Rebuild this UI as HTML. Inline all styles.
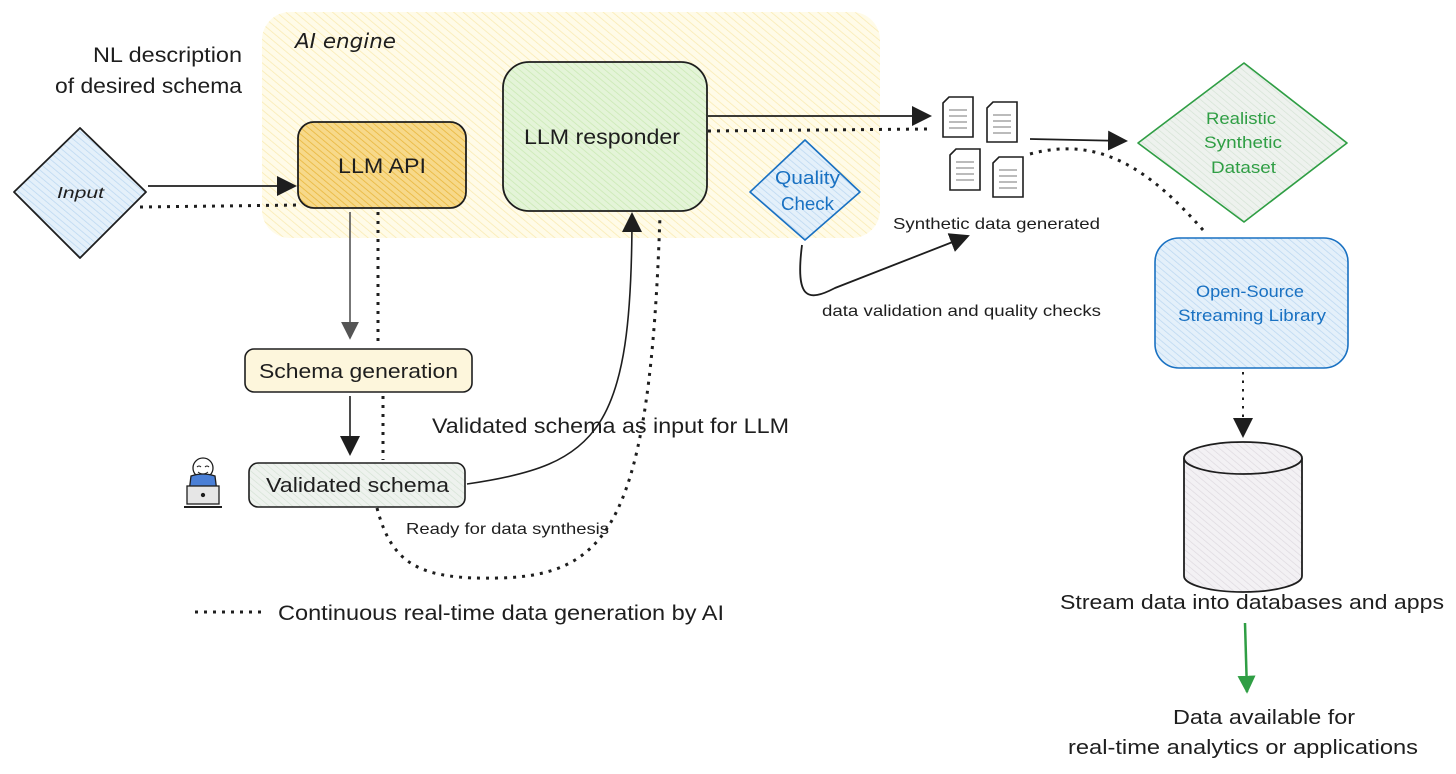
<!DOCTYPE html>
<html><head><meta charset="utf-8"><style>
html,body{margin:0;padding:0;background:#fff;}
svg{display:block;font-family:"Liberation Sans",sans-serif;}
</style></head><body>
<svg width="1456" height="774" viewBox="0 0 1456 774" xmlns="http://www.w3.org/2000/svg">
<defs>
<pattern id="hy" width="6" height="6" patternUnits="userSpaceOnUse" patternTransform="rotate(-50)"><rect width="6" height="6" fill="#fffbe8"/><line x1="0" y1="0" x2="0" y2="6" stroke="#f9eab0" stroke-width="1.5"/></pattern>
<pattern id="ho" width="5" height="5" patternUnits="userSpaceOnUse" patternTransform="rotate(-50)"><rect width="5" height="5" fill="#f7d98a"/><line x1="0" y1="0" x2="0" y2="5" stroke="#e9b73c" stroke-width="1.6"/></pattern>
<pattern id="hg" width="5" height="5" patternUnits="userSpaceOnUse" patternTransform="rotate(-50)"><rect width="5" height="5" fill="#e4f4d8"/><line x1="0" y1="0" x2="0" y2="5" stroke="#c8e8b0" stroke-width="1.4"/></pattern>
<pattern id="hb" width="5" height="5" patternUnits="userSpaceOnUse" patternTransform="rotate(-50)"><rect width="5" height="5" fill="#e4f0fa"/><line x1="0" y1="0" x2="0" y2="5" stroke="#b9d6f0" stroke-width="1.4"/></pattern>
<pattern id="hgr" width="5" height="5" patternUnits="userSpaceOnUse" patternTransform="rotate(-50)"><rect width="5" height="5" fill="#eef2ee"/><line x1="0" y1="0" x2="0" y2="5" stroke="#d3e2d3" stroke-width="1.3"/></pattern>
<pattern id="hc" width="5" height="5" patternUnits="userSpaceOnUse" patternTransform="rotate(-50)"><rect width="5" height="5" fill="#f3f1f4"/><line x1="0" y1="0" x2="0" y2="5" stroke="#dcd8de" stroke-width="1.3"/></pattern>
<marker id="arL" viewBox="0 0 10 10" refX="9" refY="5" markerWidth="20" markerHeight="20" orient="auto" markerUnits="userSpaceOnUse"><path d="M0,0 L10,5 L0,10 z" fill="#1e1e1e"/></marker>
<marker id="arG" viewBox="0 0 10 10" refX="9" refY="5" markerWidth="18" markerHeight="18" orient="auto" markerUnits="userSpaceOnUse"><path d="M0,0 L10,5 L0,10 z" fill="#2f9e44"/></marker>
<marker id="arGr" viewBox="0 0 10 10" refX="9" refY="5" markerWidth="18" markerHeight="18" orient="auto" markerUnits="userSpaceOnUse"><path d="M0,0 L10,5 L0,10 z" fill="#555"/></marker>
</defs>

<rect x="262" y="12" width="618" height="226" rx="28" fill="url(#hy)"/>
<text x="295" y="48" font-size="20" font-style="italic" fill="#1e1e1e" textLength="101" lengthAdjust="spacingAndGlyphs" font-family="'DejaVu Sans',sans-serif">AI engine</text>

<text x="93" y="62" font-size="21" fill="#1e1e1e" textLength="149" lengthAdjust="spacingAndGlyphs">NL description</text>
<text x="55" y="93" font-size="21" fill="#1e1e1e" textLength="187" lengthAdjust="spacingAndGlyphs">of desired schema</text>

<path d="M80,128 L146,192 L80,258 L14,192 Z" fill="url(#hb)" stroke="#1e1e1e" stroke-width="1.8" stroke-linejoin="round"/>
<text x="57" y="198" font-size="16" font-style="italic" fill="#1e1e1e" textLength="47" lengthAdjust="spacingAndGlyphs">Input</text>

<rect x="298" y="122" width="168" height="86" rx="16" fill="url(#ho)" stroke="#1e1e1e" stroke-width="1.8"/>
<text x="338" y="173" font-size="21" fill="#1e1e1e" textLength="88" lengthAdjust="spacingAndGlyphs">LLM API</text>

<rect x="503" y="62" width="204" height="149" rx="26" fill="url(#hg)" stroke="#1e1e1e" stroke-width="1.8"/>
<text x="524" y="144" font-size="21" fill="#1e1e1e" textLength="156" lengthAdjust="spacingAndGlyphs">LLM responder</text>

<line x1="148" y1="186" x2="295" y2="186" stroke="#1e1e1e" stroke-width="1.8" marker-end="url(#arL)"/>
<line x1="140" y1="207" x2="300" y2="205" stroke="#1e1e1e" stroke-width="3" stroke-dasharray="3,6"/>

<line x1="350" y1="212" x2="350" y2="338" stroke="#555" stroke-width="1.6" marker-end="url(#arGr)"/>
<line x1="378" y1="212" x2="378" y2="345" stroke="#1e1e1e" stroke-width="3" stroke-dasharray="3,6"/>

<rect x="245" y="349" width="227" height="43" rx="9" fill="#fdf6dc" stroke="#1e1e1e" stroke-width="1.6"/>
<text x="259" y="378" font-size="20" fill="#1e1e1e" textLength="199" lengthAdjust="spacingAndGlyphs">Schema generation</text>

<line x1="350" y1="396" x2="350" y2="454" stroke="#1e1e1e" stroke-width="1.6" marker-end="url(#arL)"/>
<line x1="383" y1="396" x2="383" y2="460" stroke="#1e1e1e" stroke-width="3" stroke-dasharray="3,6"/>

<rect x="249" y="463" width="216" height="44" rx="9" fill="url(#hgr)" stroke="#1e1e1e" stroke-width="1.6"/>
<text x="266" y="492" font-size="20" fill="#1e1e1e" textLength="183" lengthAdjust="spacingAndGlyphs">Validated schema</text>

<g stroke="#1e1e1e" stroke-width="1.3">
<circle cx="203" cy="468" r="10" fill="#fff"/>
<path d="M191,476 Q203,472 215,476 L217,492 L189,492 Z" fill="#4a7fd6"/>
<rect x="187" y="486" width="32" height="18" fill="#e6e6e6"/>
<line x1="184" y1="507" x2="222" y2="507" stroke-width="2"/>
<circle cx="203" cy="495" r="1.5" fill="#1e1e1e"/>
</g>
<path d="M197,467 q2,-2 4,0 M205,467 q2,-2 4,0 M198,472 q5,4 10,0" fill="none" stroke="#1e1e1e" stroke-width="1"/>

<path d="M467,484 C600,465 632,430 632,214" fill="none" stroke="#1e1e1e" stroke-width="1.6" marker-end="url(#arL)"/>
<path d="M377,508 C392,565 420,580 500,578 C610,575 650,520 660,215" fill="none" stroke="#1e1e1e" stroke-width="3" stroke-dasharray="3,6"/>

<text x="432" y="433" font-size="21" fill="#1e1e1e" textLength="357" lengthAdjust="spacingAndGlyphs">Validated schema as input for LLM</text>
<text x="406" y="534" font-size="16" fill="#1e1e1e" textLength="203" lengthAdjust="spacingAndGlyphs">Ready for data synthesis</text>

<line x1="195" y1="612" x2="265" y2="612" stroke="#1e1e1e" stroke-width="3" stroke-dasharray="3,6"/>
<text x="278" y="620" font-size="21" fill="#1e1e1e" textLength="446" lengthAdjust="spacingAndGlyphs">Continuous real-time data generation by AI</text>

<line x1="708" y1="116" x2="930" y2="116" stroke="#1e1e1e" stroke-width="1.8" marker-end="url(#arL)"/>
<line x1="708" y1="131" x2="928" y2="129" stroke="#1e1e1e" stroke-width="3" stroke-dasharray="3,6"/>

<path d="M805,140 L860,192 L805,240 L750,192 Z" fill="url(#hb)" stroke="#1971c2" stroke-width="1.6" stroke-linejoin="round"/>
<text x="775" y="184" font-size="18" fill="#1971c2" textLength="65" lengthAdjust="spacingAndGlyphs">Quality</text>
<text x="781" y="210" font-size="18" fill="#1971c2" textLength="53" lengthAdjust="spacingAndGlyphs">Check</text>

<path d="M802,245 C795,300 808,302 835,288 L968,236" fill="none" stroke="#1e1e1e" stroke-width="1.8" marker-end="url(#arL)"/>
<text x="822" y="316" font-size="16" fill="#1e1e1e" textLength="279" lengthAdjust="spacingAndGlyphs">data validation and quality checks</text>
<text x="893" y="229" font-size="16" fill="#1e1e1e" textLength="207" lengthAdjust="spacingAndGlyphs">Synthetic data generated</text>

<g fill="#fff" stroke="#1e1e1e" stroke-width="1.6">
<path d="M949,97 L973,97 L973,137 L943,137 L943,103 Z"/>
<path d="M993,102 L1017,102 L1017,142 L987,142 L987,108 Z"/>
<path d="M956,149 L980,149 L980,190 L950,190 L950,155 Z"/>
<path d="M999,157 L1023,157 L1023,197 L993,197 L993,163 Z"/>
</g>
<g stroke="#bbb" stroke-width="2">
<path d="M949,110h18M949,116h18M949,122h18M949,128h18"/>
<path d="M993,115h18M993,121h18M993,127h18M993,133h18"/>
<path d="M956,162h18M956,168h18M956,174h18M956,180h18"/>
<path d="M999,170h18M999,176h18M999,182h18M999,188h18"/>
</g>

<line x1="1030" y1="139" x2="1126" y2="141" stroke="#1e1e1e" stroke-width="1.8" marker-end="url(#arL)"/>
<path d="M1030,154 C1100,135 1150,170 1203,230" fill="none" stroke="#1e1e1e" stroke-width="3" stroke-dasharray="3,6"/>

<path d="M1244,63 L1347,143 L1244,222 L1138,143 Z" fill="url(#hgr)" stroke="#2f9e44" stroke-width="1.6" stroke-linejoin="round"/>
<text x="1206" y="124" font-size="17" fill="#2f9e44" textLength="70" lengthAdjust="spacingAndGlyphs">Realistic</text>
<text x="1204" y="148" font-size="17" fill="#2f9e44" textLength="78" lengthAdjust="spacingAndGlyphs">Synthetic</text>
<text x="1211" y="173" font-size="17" fill="#2f9e44" textLength="65" lengthAdjust="spacingAndGlyphs">Dataset</text>

<rect x="1155" y="238" width="193" height="130" rx="24" fill="url(#hb)" stroke="#1971c2" stroke-width="1.6"/>
<text x="1196" y="297" font-size="17" fill="#1971c2" textLength="108" lengthAdjust="spacingAndGlyphs">Open-Source</text>
<text x="1178" y="321" font-size="17" fill="#1971c2" textLength="148" lengthAdjust="spacingAndGlyphs">Streaming Library</text>

<line x1="1243" y1="372" x2="1243" y2="436" stroke="#1e1e1e" stroke-width="2" stroke-dasharray="2.5,6" marker-end="url(#arL)"/>

<path d="M1184,458 L1184,576 A59,16 0 0 0 1302,576 L1302,458" fill="url(#hc)" stroke="#1e1e1e" stroke-width="1.8"/>
<ellipse cx="1243" cy="458" rx="59" ry="16" fill="url(#hc)" stroke="#1e1e1e" stroke-width="1.8"/>

<text x="1060" y="609" font-size="20" fill="#1e1e1e" textLength="384" lengthAdjust="spacingAndGlyphs">Stream data into databases and apps</text>
<line x1="1245" y1="623" x2="1247" y2="692" stroke="#2f9e44" stroke-width="2.5" marker-end="url(#arG)"/>
<text x="1173" y="724" font-size="20" fill="#1e1e1e" textLength="182" lengthAdjust="spacingAndGlyphs">Data available for</text>
<text x="1068" y="754" font-size="20" fill="#1e1e1e" textLength="350" lengthAdjust="spacingAndGlyphs">real-time analytics or applications</text>
</svg>
</body></html>
